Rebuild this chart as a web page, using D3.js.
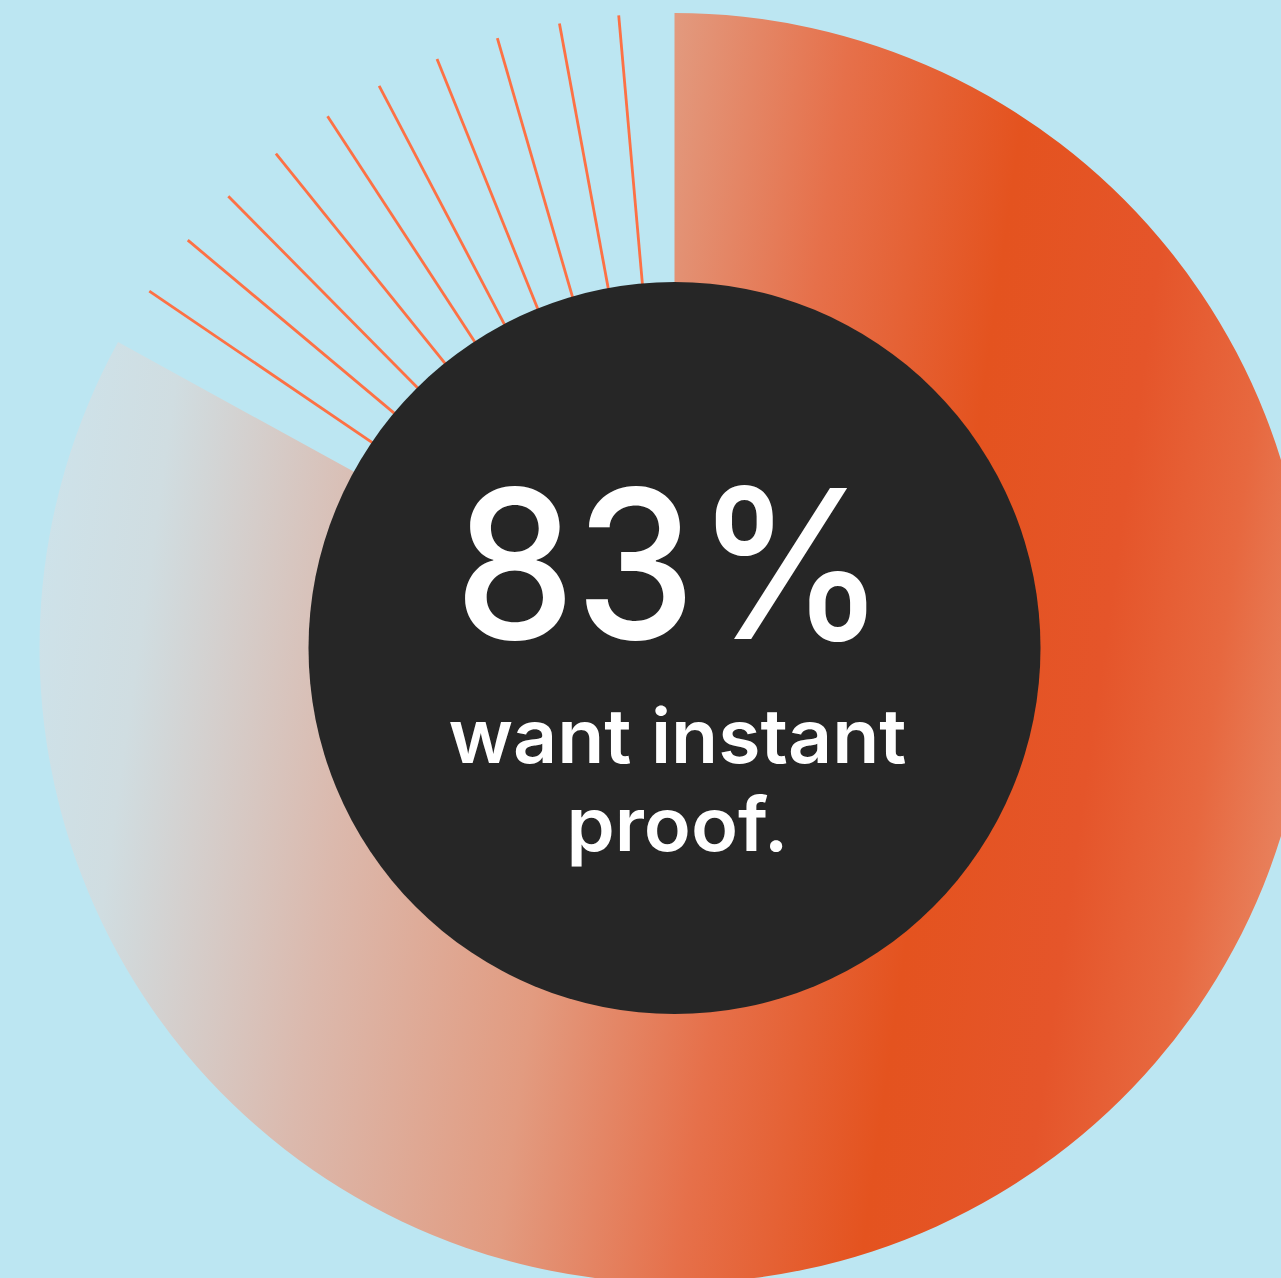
<!DOCTYPE html>
<html>
<head>
<meta charset="utf-8">
<script src="https://cdn.jsdelivr.net/npm/d3@7"></script>
<style>
   body { margin: 0; background: #bce6f2; overflow: hidden; }
   svg { display: block; }
</style>
</head>
<body>
<script>
// chart values
var shareValue = [83];
var shareLabel = ["83%"];
var captionLines = ["want instant", "proof."];
// the thin lines that fill the remaining 17%, in percent of the circle
var tickPercents = [84.5, 86.1, 87.6, 89.2, 90.8, 92.3, 93.9, 95.5, 97.1, 98.6];

// gradient colours along the ring (offset, colour)
var gradOffsets = [0, 0.1, 0.27, 0.44, 0.58, 0.72, 0.84, 0.93, 1];
var gradColours = ["#cde3eb", "#d0dde1", "#dbb9ad", "#e29b80", "#e6704a",
   "#e4531f", "#e5552a", "#e7683f", "#e8825e"];

var width = 1281,
   height = 1278,
   cx = 674.5,
   cy = 648,
   outerR = 635,
   innerR = 360,
   holeR = 366;

var svg = d3.select("body").append("svg")
   .attr("width", width)
   .attr("height", height);

svg.append("rect")
   .attr("width", width)
   .attr("height", height)
   .attr("fill", "#bce6f2");

// gradient runs left to right, tilted a little downward
// (coordinates are in the centred group's space)
var grad = svg.append("defs").append("linearGradient")
   .attr("id", "ringGrad")
   .attr("gradientUnits", "userSpaceOnUse")
   .attr("x1", 20 - cx).attr("y1", 560 - cy)
   .attr("x2", 1300 - cx).attr("y2", 740 - cy);

grad.selectAll("stop")
   .data(gradOffsets)
   .enter().append("stop")
   .attr("offset", function(d) { return d; })
   .attr("stop-color", function(d, i) { return gradColours[i]; });

// percent -> angle
var angle = d3.scaleLinear()
   .domain([0, 100])
   .range([0, 2 * Math.PI]);

var g = svg.append("g")
   .attr("transform", "translate(" + cx + "," + cy + ")");

var arc = d3.arc()
   .innerRadius(innerR)
   .outerRadius(outerR)
   .startAngle(0)
   .endAngle(function(d) { return angle(d); });

g.selectAll(".share")
   .data(shareValue)
   .enter().append("path")
   .attr("class", "share")
   .attr("d", arc)
   .attr("fill", "url(#ringGrad)");

// radial lines in the gap
g.selectAll(".tick-line")
   .data(tickPercents)
   .enter().append("line")
   .attr("class", "tick-line")
   .attr("x1", function(d) { return d3.pointRadial(angle(d), 300)[0]; })
   .attr("y1", function(d) { return d3.pointRadial(angle(d), 300)[1]; })
   .attr("x2", function(d) { return d3.pointRadial(angle(d), outerR)[0]; })
   .attr("y2", function(d) { return d3.pointRadial(angle(d), outerR)[1]; })
   .attr("stroke", "#fd7145")
   .attr("stroke-width", 2.8);

// dark centre
g.append("circle")
   .attr("r", holeR)
   .attr("fill", "#262626");

g.selectAll(".big")
   .data(shareLabel)
   .enter().append("text")
   .attr("class", "big")
   .attr("x", -4)
   .attr("y", -9)
   .attr("text-anchor", "middle")
   .attr("textLength", 432)
   .attr("lengthAdjust", "spacingAndGlyphs")
   .attr("fill", "#ffffff")
   .style("font-family", "Inter, 'Noto Sans', sans-serif")
   .style("font-weight", 500)
   .style("font-size", "208px")
   .text(function(d) { return d; });

var captionWidths = [458, 222];

g.selectAll(".caption")
   .data(captionLines)
   .enter().append("text")
   .attr("class", "caption")
   .attr("x", 3)
   .attr("y", function(d, i) { return 115 + i * 88; })
   .attr("text-anchor", "middle")
   .attr("textLength", function(d, i) { return captionWidths[i]; })
   .attr("lengthAdjust", "spacingAndGlyphs")
   .attr("fill", "#ffffff")
   .style("font-family", "Inter, 'Noto Sans', sans-serif")
   .style("font-weight", 600)
   .style("font-size", "75px")
   .text(function(d) { return d; });
</script>
</body>
</html>
